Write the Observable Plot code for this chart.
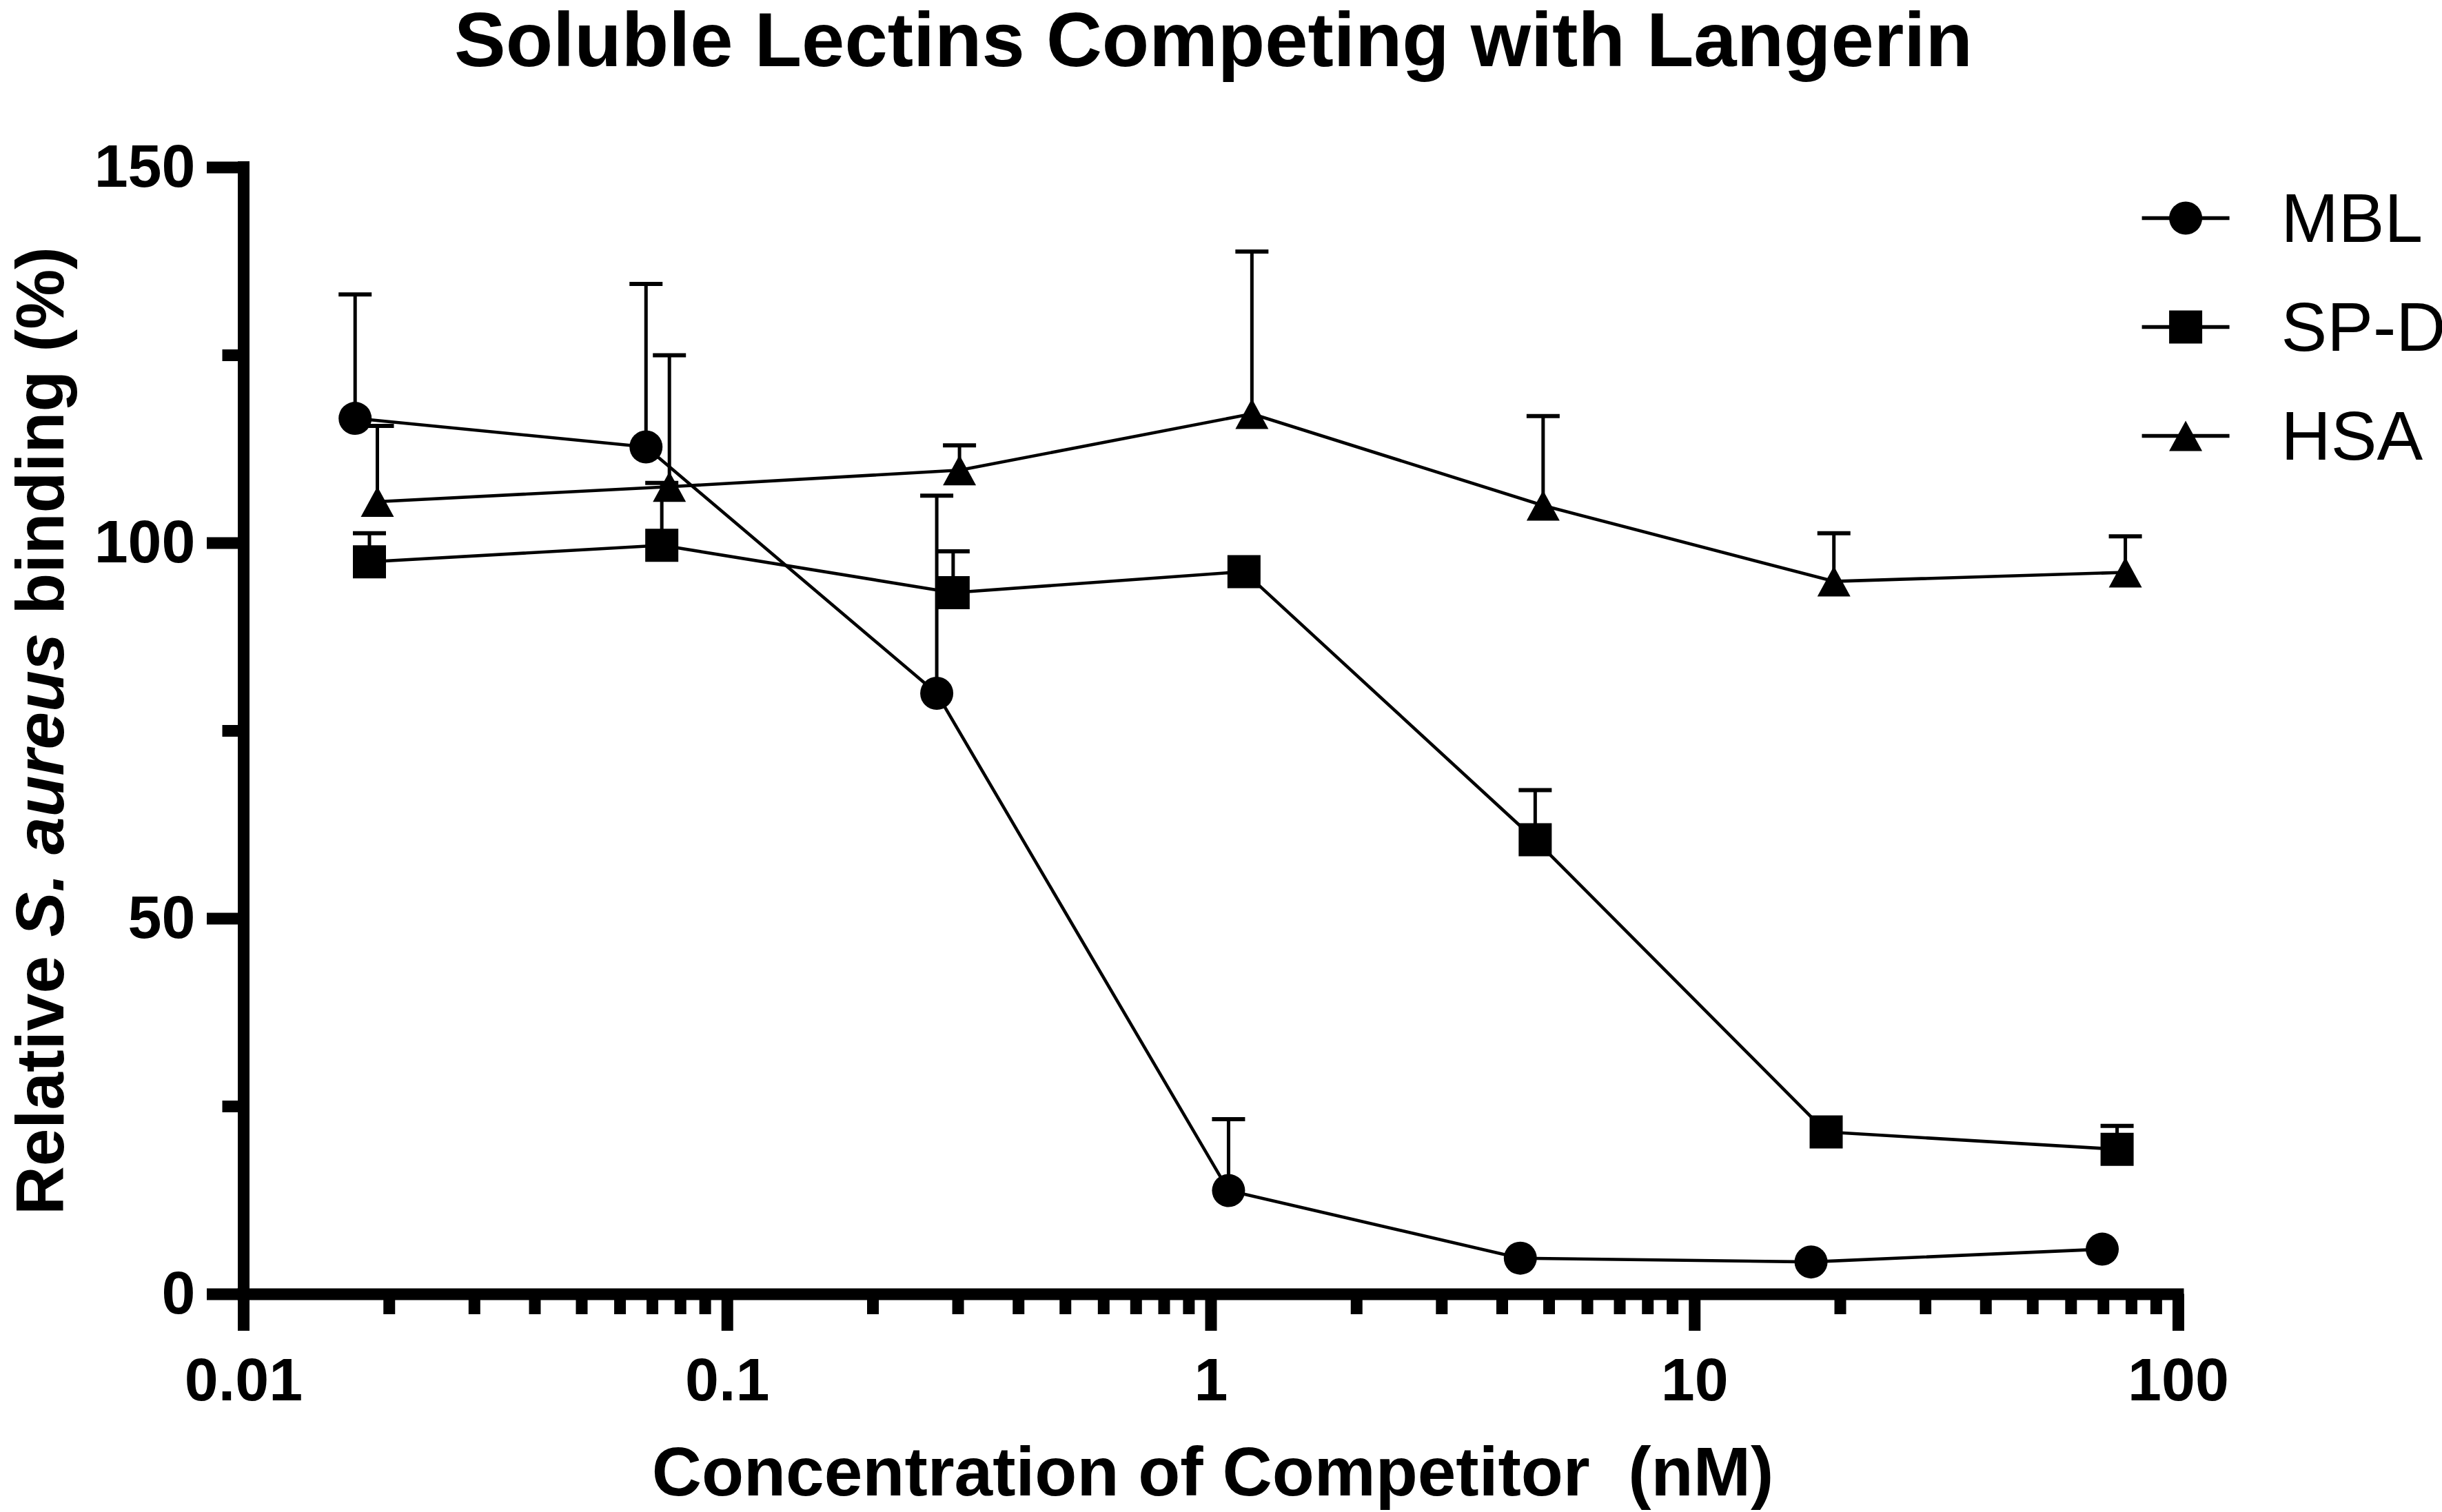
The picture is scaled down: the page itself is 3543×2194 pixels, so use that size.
<!DOCTYPE html>
<html>
<head>
<meta charset="utf-8">
<script src="https://cdn.jsdelivr.net/npm/d3@7"></script>
<script src="https://cdn.jsdelivr.net/npm/@observablehq/plot@0.6"></script>
<style>
html, body { margin: 0; padding: 0; background: #fff; overflow: hidden; }
#wrap { position: relative; width: 3543px; height: 2194px; }
#title { position: absolute; left: -11px; top: 2px; width: 3543px; text-align: center;
  font: bold 112px "Liberation Sans", Arial, sans-serif; line-height: 112px; color: #000; white-space: nowrap; }
#chart { position: absolute; left: 0; top: 150px; }
#chart svg { display: block; }
#chart text { white-space: pre; }
</style>
</head>
<body>
<div id="wrap">
  <div id="title">Soluble Lectins Competing with Langerin</div>
  <div id="chart"></div>
</div>
<script>
// ---- data ----
const seriesNames = ["MBL", "SP-D", "HSA"];

const mblConc    = [0.0170, 0.0679, 0.271, 1.087, 4.36, 17.4, 69.6];
const mblBinding = [116.6, 112.8, 80.0, 13.8, 4.8, 4.3, 6.0];
const mblErrTop  = [133.1, 134.5, 106.3, 23.3, null, null, null];

const spdConc    = [0.0182, 0.0732, 0.293, 1.170, 4.68, 18.7, 74.7];
const spdBinding = [97.5, 99.7, 93.4, 96.2, 60.5, 21.6, 19.3];
const spdErrTop  = [101.3, 108.0, 98.9, null, 67.1, null, 22.4];

const hsaConc    = [0.0189, 0.0759, 0.302, 1.215, 4.86, 19.4, 77.7];
const hsaBinding = [105.5, 107.5, 109.7, 117.2, 105.0, 94.9, 96.1];
const hsaErrTop  = [115.6, 125.0, 113.0, 138.8, 116.9, 101.3, 100.9];

const xMajorTicks = [0.01, 0.1, 1, 10, 100];
const xMinorTicks = [0.02, 0.03, 0.04, 0.05, 0.06, 0.07, 0.08, 0.09,
                     0.2, 0.3, 0.4, 0.5, 0.6, 0.7, 0.8, 0.9,
                     2, 3, 4, 5, 6, 7, 8, 9,
                     20, 30, 40, 50, 60, 70, 80, 90];
const yMajorTicks = [0, 50, 100, 150];
const yMinorTicks = [25, 75, 125];

const xLabel = "Concentration of Competitor  (nM)";
const yLabel = "Relative S. aureus binding (%)";
const yLabelParts = ["Relative ", "S. aureus", " binding (%)"];

// ---- build table ----
function rowsOf(name, conc, bind, err) {
  return conc.map((x, i) => ({series: name, x, y: bind[i], top: err[i]}));
}
const series = [
  rowsOf(seriesNames[0], mblConc, mblBinding, mblErrTop),
  rowsOf(seriesNames[1], spdConc, spdBinding, spdErrTop),
  rowsOf(seriesNames[2], hsaConc, hsaBinding, hsaErrTop)
];
const rows = series.flat();
const errRows = rows.filter(d => d.top != null);

// ---- symbols ----
const circleSym = {draw(c) { c.moveTo(24, 0); c.arc(0, 0, 24, 0, 2 * Math.PI); c.closePath(); }};
const squareSym = {draw(c) { c.moveTo(-24, -24); c.lineTo(24, -24); c.lineTo(24, 24); c.lineTo(-24, 24); c.closePath(); }};
const triSym    = {draw(c) { c.moveTo(0, -22); c.lineTo(24, 22); c.lineTo(-24, 22); c.closePath(); }};
const capSym    = {draw(c) { c.moveTo(-24, 0); c.lineTo(24, 0); }};
const legLine   = {draw(c) { c.moveTo(-63.5, 0); c.lineTo(63.5, 0); }};
const syms = [circleSym, squareSym, triSym];

const font = '"Liberation Sans", Arial, sans-serif';

const legendMarks = seriesNames.flatMap((name, i) => [
  Plot.dot([0], {frameAnchor: "top-left", dx: 2817.6, dy: 73.5 + 158 * i, symbol: legLine,
                 fill: "none", stroke: "black", strokeWidth: 5.7}),
  Plot.dot([0], {frameAnchor: "top-left", dx: 2817.6, dy: 73.5 + 158 * i, symbol: syms[i],
                 fill: "black", stroke: "none"}),
  Plot.text([name], {text: d => d, frameAnchor: "top-left", dx: 2956, dy: 108 + 158 * i,
                     textAnchor: "start", lineAnchor: "bottom", fontSize: 100, fontWeight: "normal", fill: "black"})
]);

const chart = Plot.plot({
  width: 3543,
  height: 2044,
  marginLeft: 353,
  marginRight: 383,
  marginTop: 92.5,
  marginBottom: 316.5,
  style: {fontFamily: font, color: "black", background: "white", overflow: "visible"},
  x: {type: "log", domain: [0.01, 100]},
  y: {type: "linear", domain: [0, 150]},
  marks: [
    // axes lines
    Plot.ruleY([0], {x1: 0.01, x2: 100, stroke: "black", strokeWidth: 17, strokeLinecap: "square"}),
    Plot.ruleX([0.01], {y1: 0, y2: 150, stroke: "black", strokeWidth: 17, strokeLinecap: "square"}),
    // ticks
    Plot.axisX(xMajorTicks, {anchor: "bottom", tickSize: 53.5, tickPadding: 38, strokeWidth: 17,
      strokeLinecap: "butt", fontSize: 88, fontWeight: "bold", tickFormat: d => String(d), label: null}),
    Plot.axisX(xMinorTicks, {anchor: "bottom", tickSize: 29.5, strokeWidth: 17,
      strokeLinecap: "butt", tickFormat: () => "", label: null}),
    Plot.axisY(yMajorTicks, {anchor: "left", tickSize: 53, tickPadding: 17, strokeWidth: 17,
      strokeLinecap: "butt", fontSize: 88, fontWeight: "bold", tickFormat: d => String(d), label: null}),
    Plot.axisY(yMinorTicks, {anchor: "left", tickSize: 30.5, strokeWidth: 17,
      strokeLinecap: "butt", tickFormat: () => "", label: null}),
    // axis titles
    Plot.text([xLabel], {text: d => d, frameAnchor: "bottom", dx: 2.5, dy: 291.5, lineAnchor: "bottom",
      textAnchor: "middle", fontSize: 100, fontWeight: "bold", fill: "black"}),
    Plot.text([yLabel], {text: d => d, frameAnchor: "left", dx: -262, rotate: -90, lineAnchor: "bottom",
      textAnchor: "middle", fontSize: 98, fontWeight: "bold", fill: "black"}),
    // data
    Plot.line(rows, {x: "x", y: "y", z: "series", stroke: "black", strokeWidth: 4.6}),
    Plot.ruleX(errRows, {x: "x", y1: "y", y2: "top", stroke: "black", strokeWidth: 5}),
    Plot.dot(errRows, {x: "x", y: "top", symbol: capSym, fill: "none", stroke: "black", strokeWidth: 6}),
    ...series.map((s, i) => Plot.dot(s, {x: "x", y: "y", symbol: syms[i], fill: "black", stroke: "none"})),
    ...legendMarks
  ]
});

// italic species name in the y label
d3.select(chart).selectAll("text").filter(function () { return this.textContent === yLabel; })
  .each(function () {
    const t = d3.select(this);
    t.text(null);
    t.append("tspan").text(yLabelParts[0]);
    t.append("tspan").attr("font-style", "italic").text(yLabelParts[1]);
    t.append("tspan").text(yLabelParts[2]);
  });

document.getElementById("chart").appendChild(chart);
</script>
</body>
</html>
